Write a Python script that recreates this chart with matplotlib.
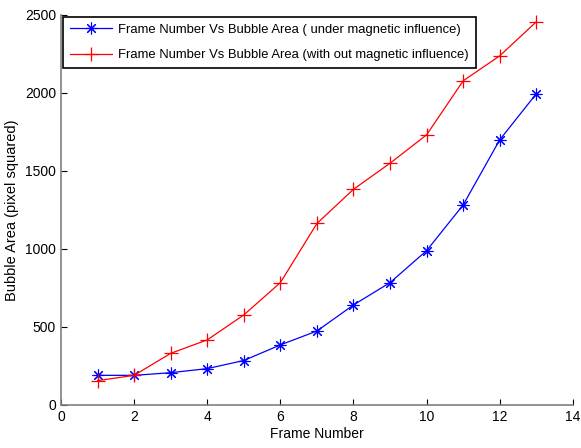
import matplotlib
matplotlib.use("Agg")
import matplotlib.pyplot as plt

frames = [1, 2, 3, 4, 5, 6, 7, 8, 9, 10, 11, 12, 13]
area_magnetic = [190, 190, 207, 233, 285, 385, 474, 641, 784, 989, 1282, 1699, 1994]
area_no_magnetic = [156, 190, 331, 417, 577, 784, 1163, 1382, 1549, 1731, 2077, 2237, 2455]

plt.rcParams["font.family"] = ["Liberation Sans", "DejaVu Sans"]

fig = plt.figure(figsize=(5.81, 4.48), dpi=100, facecolor="white")
ax = fig.add_axes([0.105, 0.096, 0.881, 0.871])

# MATLAB-style asterisk: 8 spokes
ax.plot(frames, area_magnetic, color="#0000ff", lw=0.9, marker=(8, 2, 0), ms=8.5,
        mew=0.8, label="Frame Number Vs Bubble Area ( under magnetic influence)")
ax.plot(frames, area_no_magnetic, color="#ff0000", lw=0.9, marker="+", ms=10,
        mew=0.9, label="Frame Number Vs Bubble Area (with out magnetic influence)")

ax.set_xlim(0, 14)
ax.set_ylim(0, 2500)
ax.set_xticks(range(0, 15, 2))
ax.set_yticks(range(0, 2501, 500))
ax.tick_params(direction="in", length=4, width=0.8, labelsize=10, colors="black")
ax.spines[["top", "right"]].set_visible(False)
for sp in ["left", "bottom"]:
    ax.spines[sp].set_color("#808080")
    ax.spines[sp].set_linewidth(1.2)

ax.set_xlabel("Frame Number", fontsize=10, labelpad=2)
ax.set_ylabel("Bubble Area (pixel squared)", fontsize=10.5, labelpad=4)

leg = ax.legend(loc="upper left", fontsize=9.4, fancybox=False, framealpha=1,
                edgecolor="black", borderaxespad=0.15, handlelength=3.2,
                handletextpad=0.5, borderpad=0.55, labelspacing=1.0)
leg.get_frame().set_linewidth(1.2)

fig.savefig("out.png", dpi=100)
